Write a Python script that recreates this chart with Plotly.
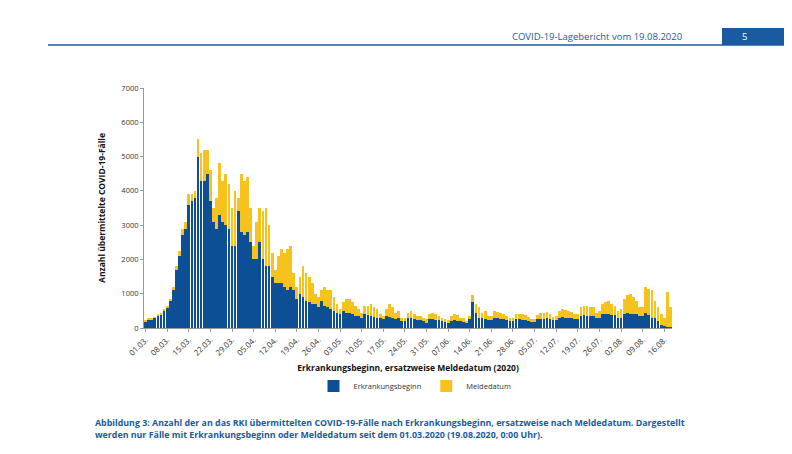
import plotly.graph_objects as go
import datetime as dt

erk = [200,250,260,300,350,400,500,
600,800,1100,1700,2100,2700,2900,
3600,3700,3800,5000,4300,4300,4500,
3700,3100,2900,3300,3100,3000,2900,
2400,2400,3400,2800,2700,2800,2500,
2000,2000,2500,2000,1800,1800,1500,
1300,1300,1300,1200,1100,1200,1100,
850,1000,900,800,750,700,700,
600,800,650,600,550,500,450,
400,500,450,450,400,350,350,
300,400,380,350,330,300,280,
250,350,320,300,260,300,200,
200,300,280,250,220,230,200,
150,250,250,230,220,200,170,
140,200,220,200,190,180,150,
250,750,450,300,280,250,220,
220,300,280,250,250,230,200,
200,260,250,240,230,200,180,
180,250,260,270,280,270,220,
230,300,320,300,280,280,250,
250,350,380,360,350,350,300,
300,400,420,400,380,380,300,
300,400,450,420,400,400,350,
350,450,380,300,280,200,100,
60,40,20]
total = [220,270,280,320,380,430,530,
650,850,1200,1800,2250,2900,3100,
3900,3900,4000,5500,5100,5200,5200,
4600,3500,3800,4800,4300,4500,4200,
3500,4000,3800,4500,4300,4400,3500,
2400,3100,3500,3400,3500,3000,2200,
1700,2100,2300,2200,2300,2400,1600,
1200,1500,1800,1600,1500,1300,1000,
900,1100,1200,1100,1100,900,700,
550,750,850,850,750,650,550,
450,650,650,700,600,550,400,
350,550,700,600,450,500,300,
300,450,500,400,350,350,280,
250,400,450,400,350,300,250,
220,350,420,380,300,300,200,
350,950,700,600,450,500,350,
350,500,480,450,400,350,300,
300,400,420,400,380,320,250,
250,380,450,450,480,420,330,
350,500,550,520,500,480,400,
400,600,650,650,600,600,450,
500,700,750,800,700,650,500,
550,850,950,1000,900,800,600,
600,1200,1150,1100,800,600,400,
300,1050,600]
melde = [t - e for t, e in zip(total, erk)]
start = dt.date(2020, 3, 1)
dates = [(start + dt.timedelta(days=i)).strftime("%d.%m.") for i in range(len(erk))]
tick_labels = dates[::7]

W, H, OFF = 784, 446, 8
def px(x): return (x - OFF) / W
def py(y): return 1 - (y - OFF) / H

fig = go.Figure()
fig.add_bar(x=dates, y=erk, name="Erkrankungsbeginn", marker_color="#0d4f95", marker_line_width=0)
fig.add_bar(x=dates, y=melde, name="Meldedatum", marker_color="#f6c21e", marker_line_width=0)
fig.update_layout(
    barmode="stack", bargap=0.12, width=W, height=H,
    paper_bgcolor="white", plot_bgcolor="white",
    margin=dict(l=0, r=0, t=0, b=0, autoexpand=False),
    font=dict(family="Open Sans", size=8, color="#333"),
    showlegend=True,
    legend=dict(orientation="h", traceorder="normal", x=px(415), xanchor="center", y=py(386), yanchor="middle",
                font=dict(size=7.5), itemwidth=30, itemsizing="constant"),
    xaxis=dict(domain=[px(144), px(672)], type="category", tickvals=tick_labels, ticktext=tick_labels,
               tickangle=-45, showline=True, linecolor="#999", ticks="outside", ticklen=3,
               tickcolor="#999", tickfont=dict(size=8, color="#333"), automargin=False,
               title=dict(text="<b>Erkrankungsbeginn, ersatzweise Meldedatum (2020)</b>",
                          font=dict(size=8.5, color="#111"), standoff=8)),
    yaxis=dict(domain=[py(328), py(88)], range=[0, 7000], dtick=1000, showgrid=False,
               showline=True, linecolor="#999", ticks="outside", ticklen=3, tickcolor="#999",
               tickfont=dict(size=7.5, color="#333"), automargin=False,
               title=dict(text="<b>Anzahl übermittelte COVID-19-Fälle</b>",
                          font=dict(size=8.5, color="#111"), standoff=14)),
)
fig.add_shape(type="line", xref="paper", yref="paper", x0=px(48), x1=1, y0=py(45), y1=py(45),
              line=dict(color="#1a5aa0", width=1.5))
fig.add_shape(type="rect", xref="paper", yref="paper", x0=px(722), x1=1, y0=py(45), y1=py(28),
              fillcolor="#1a5aa0", line_width=0)
fig.add_annotation(text="COVID-19-Lagebericht vom 19.08.2020", xref="paper", yref="paper",
                   x=px(684), y=py(37), xanchor="right", yanchor="middle", showarrow=False,
                   font=dict(size=9.5, color="#1a5aa0"))
fig.add_annotation(text="5", xref="paper", yref="paper", x=px(744), y=py(37),
                   xanchor="center", yanchor="middle", showarrow=False, font=dict(size=9.5, color="white"))
fig.add_annotation(text="<b>Abbildung 3: Anzahl der an das RKI übermittelten COVID-19-Fälle nach Erkrankungsbeginn, ersatzweise nach Meldedatum. Dargestellt<br>werden nur Fälle mit Erkrankungsbeginn oder Meldedatum seit dem 01.03.2020 (19.08.2020, 0:00 Uhr).</b>",
                   xref="paper", yref="paper", x=px(93), y=py(429), xanchor="left", yanchor="middle",
                   align="left", showarrow=False, font=dict(size=8.85, color="#1a5aa0"))
fig.write_html("out.html")
